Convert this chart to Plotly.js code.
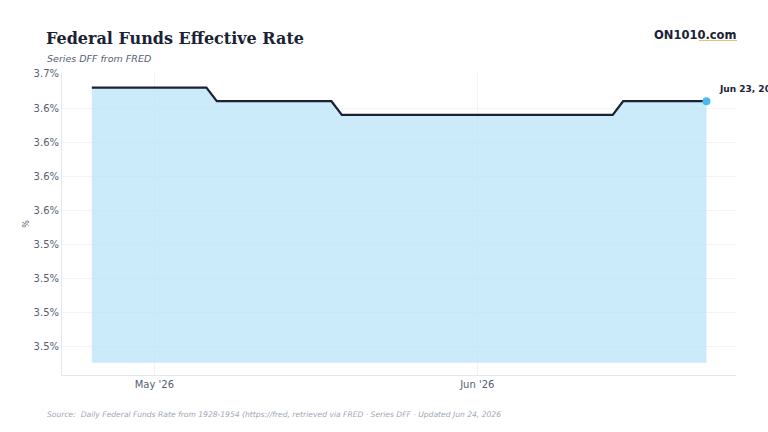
<!DOCTYPE html>
<html>
<head>
<meta charset="utf-8">
<script src="https://cdn.plot.ly/plotly-3.0.1.min.js"></script>
<style>
  html, body { margin: 0; padding: 0; background: #ffffff; }
  #chart { width: 768px; height: 432px; }
</style>
</head>
<body>
<div id="chart"></div>
<script>
// ---- Data ----
const dates = [
  '2026-04-25','2026-04-26','2026-04-27','2026-04-28','2026-04-29','2026-04-30',
  '2026-05-01','2026-05-02','2026-05-03','2026-05-04','2026-05-05','2026-05-06',
  '2026-05-07','2026-05-08','2026-05-09','2026-05-10','2026-05-11','2026-05-12',
  '2026-05-13','2026-05-14','2026-05-15','2026-05-16','2026-05-17','2026-05-18',
  '2026-05-19','2026-05-20','2026-05-21','2026-05-22','2026-05-23','2026-05-24',
  '2026-05-25','2026-05-26','2026-05-27','2026-05-28','2026-05-29','2026-05-30',
  '2026-05-31','2026-06-01','2026-06-02','2026-06-03','2026-06-04','2026-06-05',
  '2026-06-06','2026-06-07','2026-06-08','2026-06-09','2026-06-10','2026-06-11',
  '2026-06-12','2026-06-13','2026-06-14','2026-06-15','2026-06-16','2026-06-17',
  '2026-06-18','2026-06-19','2026-06-20','2026-06-21','2026-06-22','2026-06-23'
];
const rates = [
  3.64, 3.64, 3.64, 3.64, 3.64, 3.64,
  3.64, 3.64, 3.64, 3.64, 3.64, 3.64,
  3.63, 3.63, 3.63, 3.63, 3.63, 3.63,
  3.63, 3.63, 3.63, 3.63, 3.63, 3.63,
  3.62, 3.62, 3.62, 3.62, 3.62, 3.62,
  3.62, 3.62, 3.62, 3.62, 3.62, 3.62,
  3.62, 3.62, 3.62, 3.62, 3.62, 3.62,
  3.62, 3.62, 3.62, 3.62, 3.62, 3.62,
  3.62, 3.62, 3.62, 3.63, 3.63, 3.63,
  3.63, 3.63, 3.63, 3.63, 3.63, 3.63
];
const fillFloor = 3.438;
const yTickVals = [3.45, 3.475, 3.5, 3.525, 3.55, 3.575, 3.6, 3.625, 3.65];
const yTickText = ['3.5%', '3.5%', '3.5%', '3.5%', '3.6%', '3.6%', '3.6%', '3.6%', '3.7%'];
const lastLabel = 'Jun 23, 2026';

// ---- Styling ----
const TEXT_DARK = '#1a2234';
const TEXT_MUTED = '#566073';
const FONT = 'DejaVu Sans, sans-serif';
const W = 768, H = 432;
const M = { l: 62, r: 32, t: 73, b: 57 };
const PW = W - M.l - M.r, PH = H - M.t - M.b;
const px = (x) => (x - M.l) / PW;
const py = (y) => 1 - (y - M.t) / PH;

const lastIdx = dates.length - 1;

const traces = [
  {
    x: dates,
    y: dates.map(() => fillFloor),
    type: 'scatter',
    mode: 'lines',
    line: { width: 0, color: 'rgba(0,0,0,0)' },
    hoverinfo: 'skip',
    showlegend: false
  },
  {
    x: dates,
    y: rates,
    type: 'scatter',
    mode: 'lines',
    fill: 'tonexty',
    fillcolor: 'rgba(186,227,248,0.75)',
    line: { color: TEXT_DARK, width: 2.2 },
    hoverinfo: 'skip',
    showlegend: false
  },
  {
    x: [dates[lastIdx]],
    y: [rates[lastIdx]],
    type: 'scatter',
    mode: 'markers',
    marker: { color: '#4bb9ef', size: 8 },
    hoverinfo: 'skip',
    showlegend: false
  }
];

const layout = {
  width: W,
  height: H,
  paper_bgcolor: '#ffffff',
  plot_bgcolor: '#ffffff',
  margin: M,
  font: { family: FONT, color: TEXT_MUTED, size: 10 },
  title: {
    text: '<b>Federal Funds Effective Rate</b>',
    font: { family: 'DejaVu Serif, serif', size: 16, color: TEXT_DARK },
    x: 46 / W, xref: 'container', xanchor: 'left',
    y: 1 - 38 / H, yref: 'container', yanchor: 'middle'
  },
  xaxis: {
    type: 'date',
    range: ['2026-04-22 03:20', '2026-06-25 20:00'],
    tickformat: "%b '%y",
    dtick: 'M1',
    tick0: '2026-05-01',
    showgrid: true,
    gridcolor: '#f1f3f6',
    gridwidth: 1,
    showline: true,
    linecolor: '#e4e7eb',
    linewidth: 1,
    ticks: '',
    tickfont: { family: FONT, size: 10, color: TEXT_MUTED },
    zeroline: false,
    fixedrange: true
  },
  yaxis: {
    range: [3.4291, 3.6507],
    tickmode: 'array',
    tickvals: yTickVals,
    ticktext: yTickText,
    showgrid: true,
    gridcolor: '#f1f3f6',
    gridwidth: 1,
    showline: true,
    linecolor: '#e4e7eb',
    linewidth: 1,
    ticks: '',
    tickfont: { family: FONT, size: 10, color: TEXT_MUTED },
    zeroline: false,
    title: { text: '%', font: { family: FONT, size: 8, color: TEXT_MUTED }, standoff: 2 },
    fixedrange: true
  },
  annotations: [
    {
      xref: 'x', yref: 'y',
      x: dates[lastIdx], y: rates[lastIdx],
      text: '<b>' + lastLabel + ': ' + rates[lastIdx].toFixed(2) + '%</b>',
      showarrow: false,
      xanchor: 'left', yanchor: 'middle',
      xshift: 11, yshift: 12,
      font: { family: FONT, size: 9, color: TEXT_DARK }
    },
    {
      xref: 'paper', yref: 'paper', x: px(45), y: py(58),
      xanchor: 'left', yanchor: 'middle', showarrow: false,
      text: '<i>Series DFF from FRED</i>',
      font: { family: FONT, size: 9.5, color: TEXT_MUTED }
    },
    {
      xref: 'paper', yref: 'paper', x: px(738), y: py(35),
      xanchor: 'right', yanchor: 'middle', showarrow: false,
      text: '<b>ON1010.com</b>',
      font: { family: FONT, size: 11.5, color: TEXT_DARK }
    },
    {
      xref: 'paper', yref: 'paper', x: px(45), y: py(414),
      xanchor: 'left', yanchor: 'middle', showarrow: false,
      text: '<i>Source:  Daily Federal Funds Rate from 1928-1954 (https://fred, retrieved via FRED · Series DFF · Updated Jun 24, 2026</i>',
      font: { family: FONT, size: 7.6, color: '#a0a7b5' }
    }
  ],
  shapes: [
    {
      type: 'line', xref: 'paper', yref: 'paper',
      x0: px(699), x1: px(737), y0: py(40.5), y1: py(40.5),
      line: { color: '#e2c275', width: 1 }
    }
  ]
};

Plotly.newPlot('chart', traces, layout, { displayModeBar: false, staticPlot: true });
</script>
</body>
</html>
